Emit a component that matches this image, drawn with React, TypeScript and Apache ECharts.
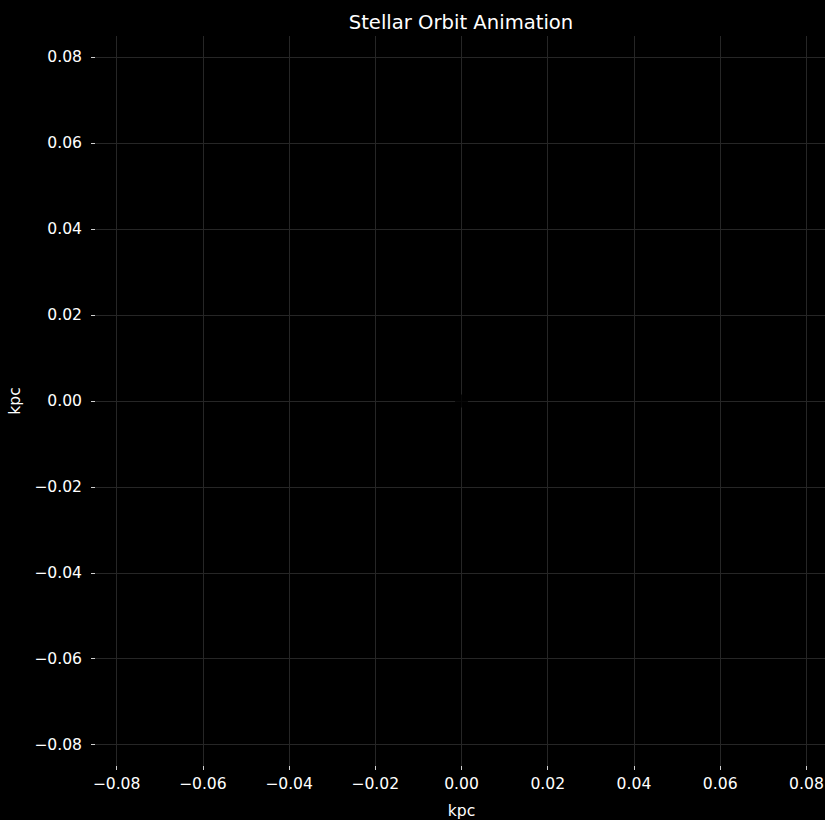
import React, { useEffect, useRef } from "react";
import * as echarts from "echarts";

// Axis extents (kpc) and labelled tick positions
const axisMin = -0.085;
const axisMax = 0.085;
const tickValues = [-0.08, -0.06, -0.04, -0.02, 0, 0.02, 0.04, 0.06, 0.08];

// Star position (kpc) at the current frame
const starX = [0];
const starY = [0];

const FONT = "DejaVu Sans, sans-serif";

const fmt = (v: number) => {
  const s = Math.abs(v).toFixed(2);
  return v < -1e-9 ? "\u2212" + s : s;
};

const axisCommon = {
  type: "value" as const,
  min: axisMin,
  max: axisMax,
  nameLocation: "middle" as const,
  axisLine: { show: false, onZero: false },
  axisTick: {
    show: true,
    length: 4,
    customValues: tickValues,
    lineStyle: { color: "#d0d0d0", width: 1 },
  },
  splitLine: {
    show: true,
    lineStyle: { color: "#262626", width: 1 },
  },
  nameTextStyle: { color: "#ffffff", fontSize: 15.6, fontFamily: FONT },
};

export default function App() {
  const ref = useRef<HTMLDivElement>(null);

  useEffect(() => {
    if (!ref.current) return;
    const chart = echarts.init(ref.current, undefined, { renderer: "svg" });
    chart.setOption({
      animation: false,
      backgroundColor: "#000000",
      title: {
        text: "Stellar Orbit Animation",
        left: 456,
        textAlign: "center",
        top: 7,
        textStyle: {
          color: "#ffffff",
          fontSize: 19.6,
          fontWeight: "normal",
          fontFamily: FONT,
        },
      },
      grid: {
        left: 95,
        top: 36,
        width: 733,
        height: 730,
        containLabel: false,
        outerBoundsMode: "none",
      },
      xAxis: {
        ...axisCommon,
        name: "kpc",
        nameGap: 37,
        axisLabel: {
          customValues: tickValues,
          formatter: fmt,
          color: "#ffffff",
          fontSize: 15.6,
          fontFamily: FONT,
          margin: 10,
          showMinLabel: true,
          showMaxLabel: true,
          hideOverlap: false,
        },
      },
      yAxis: {
        ...axisCommon,
        name: "kpc",
        nameGap: 65,
        axisLabel: {
          customValues: tickValues,
          formatter: fmt,
          color: "#ffffff",
          fontSize: 15.6,
          fontFamily: FONT,
          margin: 13,
          showMinLabel: true,
          showMaxLabel: true,
          hideOverlap: false,
        },
      },
      series: [
        {
          type: "scatter",
          data: starX.map((x, i) => [x, starY[i]]),
          symbolSize: 13,
          itemStyle: { color: "#000000" },
          z: 5,
        },
      ],
    });
    return () => chart.dispose();
  }, []);

  return (
    <div
      ref={ref}
      style={{ position: "absolute", left: 0, top: 0, width: 825, height: 820 }}
    />
  );
}
